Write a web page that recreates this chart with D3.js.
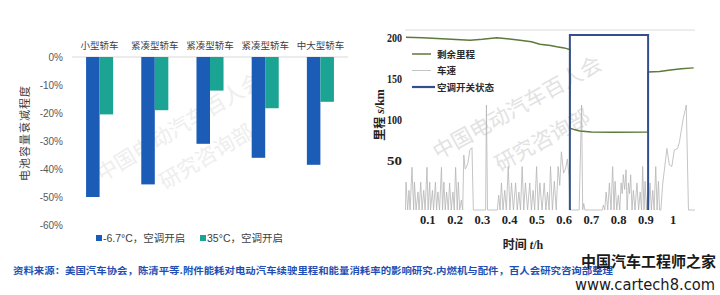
<!DOCTYPE html>
<html>
<head>
<meta charset="utf-8">
<script src="https://cdn.jsdelivr.net/npm/d3@7"></script>
<style>
    body { margin: 0; background: #fff; }
    svg { display: block; }
</style>
</head>
<body>
<div id="chart"></div>
<script>
// ---- left chart: battery capacity loss ----
const carTypes = ["小型轿车", "紧凑型轿车", "紧凑型轿车", "紧凑型轿车", "中大型轿车"];
const coldLoss = [-0.50, -0.455, -0.31, -0.36, -0.385];
const hotLoss = [-0.205, -0.19, -0.12, -0.183, -0.16];
const lossTicks = [0, -0.1, -0.2, -0.3, -0.4, -0.5, -0.6];
const barSeries = ["-6.7°C，空调开启", "35°C，空调开启"];

// ---- right chart: range vs time ----
const rangeTime = [0.02, 0.08, 0.17, 0.22, 0.255, 0.30, 0.353, 0.40, 0.438, 0.48, 0.511, 0.55, 0.573, 0.60, 0.621,
    0.621, 0.64, 0.658, 0.70, 0.78, 0.908, 0.908, 0.95, 0.99, 1.03, 1.075];
const rangeKm = [200.5, 200, 198.5, 197.5, 197, 198, 200, 198.5, 197, 195, 192, 190.5, 189, 187.5, 185.5,
    89, 87, 85.5, 84.5, 84, 84.5, 158, 158.5, 160.5, 162, 163];
const speedTime = [0.018, 0.020, 0.026, 0.031, 0.035, 0.042, 0.048, 0.051, 0.057, 0.064, 0.068, 0.074, 0.079, 0.085,
    0.090, 0.097, 0.101, 0.107, 0.110, 0.117, 0.121, 0.128, 0.132, 0.137, 0.143, 0.150, 0.154, 0.159, 0.164, 0.169,
    0.175, 0.180, 0.186, 0.192, 0.197, 0.202, 0.208, 0.212, 0.217, 0.223, 0.228, 0.232, 0.237, 0.241, 0.247, 0.254,
    0.262, 0.267, 0.312, 0.315, 0.319, 0.355, 0.360, 0.365, 0.370, 0.376, 0.382, 0.388, 0.395, 0.401, 0.407, 0.414,
    0.422, 0.428, 0.434, 0.440, 0.446, 0.452, 0.458, 0.466, 0.474, 0.480, 0.486, 0.492, 0.499, 0.505, 0.511, 0.519,
    0.527, 0.533, 0.539, 0.545, 0.550, 0.557, 0.564, 0.571, 0.578, 0.584, 0.590, 0.598, 0.605, 0.612, 0.618, 0.621,
    0.655, 0.664, 0.668, 0.672, 0.676, 0.740, 0.744, 0.749, 0.754, 0.760, 0.766, 0.772, 0.778, 0.783, 0.787, 0.793,
    0.799, 0.804, 0.809, 0.813, 0.817, 0.822, 0.827, 0.831, 0.836, 0.840, 0.844, 0.849, 0.854, 0.860, 0.867, 0.873,
    0.879, 0.884, 0.888, 0.893, 0.897, 0.902, 0.906, 0.910, 0.915, 0.920, 0.925, 0.930, 0.936, 0.941, 0.946, 0.950,
    0.955, 0.961, 0.967, 0.977, 0.986, 0.995, 1.004, 1.016, 1.023, 1.036, 1.048, 1.056, 1.08];
const speedKmh = [0, 34, 0, 24, 0, 52, 0, 34, 0, 22, 0, 34, 0, 24,
    0, 52, 0, 34, 0, 24, 0, 34, 0, 22, 0, 52, 0, 34, 0, 22,
    0, 33, 0, 22, 0, 52, 0, 34, 0, 12, 0, 67, 50, 52, 57, 73,
    76, 0, 0, 128, 0, 0, 18, 0, 33, 0, 24, 0, 53, 0, 33, 0,
    33, 0, 22, 0, 53, 0, 33, 0, 33, 0, 24, 0, 53, 0, 33, 0,
    33, 0, 22, 0, 53, 0, 35, 0, 53, 30, 71, 45, 50, 62, 40, 0,
    0, 128, 0, 8, 0, 0, 6, 0, 22, 0, 33, 0, 53, 0, 35, 0,
    18, 0, 33, 20, 43, 25, 49, 0, 33, 20, 43, 0, 24, 0, 33, 0,
    22, 0, 53, 0, 35, 0, 18, 0, 33, 0, 24, 0, 53, 0, 35, 0,
    0, 30, 47, 75, 55, 53, 73, 75, 83, 110, 128, 0, 0];
const acOnTime = [0.621, 0.908];
const timeTicks = [0.1, 0.2, 0.3, 0.4, 0.5, 0.6, 0.7, 0.8, 0.9, 1];
const kmTicks = [50, 100, 150, 200];
const lineNames = ["剩余里程", "车速", "空调开关状态"];

const sourceNote = "资料来源：美国汽车协会，陈清平等.附件能耗对电动汽车续驶里程和能量消耗率的影响研究.内燃机与配件，百人会研究咨询部整理";

class LossChart {
    constructor(_svg) {
        this.svg = _svg;
        this.InitVis();
    }

    InitVis() {
        const vis = this;
        vis.blue = "#1b5db6";
        vis.teal = "#1ba393";

        // faint watermark
        const wm = vis.svg.append("g").attr("fill", "#eeeeee")
            .attr("font-family", "Noto Sans CJK SC").attr("font-size", "21px");
        wm.append("text").attr("transform", "translate(102,182) rotate(-31)").text("中国电动汽车百人会");
        wm.append("text").attr("transform", "translate(165,190) rotate(-31)").text("研究咨询部");

        vis.x = d3.scaleBand().domain(d3.range(carTypes.length)).range([72, 348])
            .paddingInner(0.51).paddingOuter(0.255);
        vis.y = d3.scaleLinear().domain([-0.6, 0]).range([225, 57]);

        vis.svg.append("line")
            .attr("x1", 72).attr("x2", 348)
            .attr("y1", vis.y(0)).attr("y2", vis.y(0))
            .attr("stroke", "#d9d9d9");

        vis.svg.append("g").selectAll("text")
            .data(lossTicks)
            .enter()
            .append("text")
            .attr("x", 63)
            .attr("y", d => vis.y(d) + 3.5)
            .attr("text-anchor", "end")
            .attr("font-family", "Liberation Sans, Arial")
            .attr("font-size", "10px")
            .attr("fill", "#595959")
            .text(d => d3.format(".0%")(d).replace("−", "-"));

        vis.svg.append("text")
            .attr("transform", "translate(29,133) rotate(-90)")
            .attr("text-anchor", "middle")
            .attr("font-family", "Noto Sans CJK SC")
            .attr("font-size", "11px")
            .attr("fill", "#404040")
            .attr("letter-spacing", "1px")
            .text("电池容量衰减程度");

        vis.UpdateVis();
    }

    UpdateVis() {
        const vis = this;
        const bw = vis.x.bandwidth() / 2;

        vis.svg.append("g").selectAll("text")
            .data(carTypes)
            .enter()
            .append("text")
            .attr("x", (d, i) => vis.x(i) + vis.x.bandwidth() / 2)
            .attr("y", 49)
            .attr("text-anchor", "middle")
            .attr("font-family", "Noto Sans CJK SC")
            .attr("font-size", "9.5px")
            .attr("fill", "#404040")
            .text(d => d);

        vis.svg.append("g").selectAll("rect")
            .data(coldLoss)
            .enter()
            .append("rect")
            .attr("x", (d, i) => vis.x(i))
            .attr("y", vis.y(0))
            .attr("width", bw)
            .attr("height", d => vis.y(d) - vis.y(0))
            .attr("fill", vis.blue);

        vis.svg.append("g").selectAll("rect")
            .data(hotLoss)
            .enter()
            .append("rect")
            .attr("x", (d, i) => vis.x(i) + bw)
            .attr("y", vis.y(0))
            .attr("width", bw)
            .attr("height", d => vis.y(d) - vis.y(0))
            .attr("fill", vis.teal);

        // legend
        const legendX = [96, 200];
        const colors = [vis.blue, vis.teal];
        barSeries.forEach((name, i) => {
            vis.svg.append("rect")
                .attr("x", legendX[i]).attr("y", 235)
                .attr("width", 6).attr("height", 6)
                .attr("fill", colors[i]);
            vis.svg.append("text")
                .attr("x", legendX[i] + 7).attr("y", 241.5)
                .attr("font-family", "Liberation Sans, Noto Sans CJK SC")
                .attr("font-size", "10.5px")
                .attr("fill", "#404040")
                .text(name);
        });
    }
}

class RangeChart {
    constructor(_svg) {
        this.svg = _svg;
        this.InitVis();
    }

    InitVis() {
        const vis = this;
        vis.serif = "Liberation Serif, Noto Sans CJK SC";

        vis.x = d3.scaleLinear().domain([0.02, 1.08]).range([406, 695]);
        vis.yKm = d3.scaleLinear().domain([0, 200]).range([200.8, 37.7]);
        vis.ySpeed = d3.scaleLinear().domain([0, 128]).range([210, 105]);
        vis.yAc = d3.scaleLinear().domain([0, 1]).range([210, 35]);

        vis.svg.append("line")
            .attr("x1", 405).attr("x2", 695).attr("y1", 30).attr("y2", 30)
            .attr("stroke", "#dcdcdc");

        vis.svg.append("g").selectAll("text")
            .data(kmTicks)
            .enter()
            .append("text")
            .attr("x", 402)
            .attr("y", d => vis.yKm(d) + 4.5)
            .attr("text-anchor", "end")
            .attr("font-family", vis.serif)
            .attr("font-weight", "bold")
            .attr("font-size", "13px")
            .attr("textLength", 15)
            .attr("lengthAdjust", "spacingAndGlyphs")
            .attr("fill", "#222")
            .text(d => d);

        vis.svg.append("g").selectAll("text")
            .data(timeTicks)
            .enter()
            .append("text")
            .attr("x", d => vis.x(d))
            .attr("y", 224)
            .attr("text-anchor", "middle")
            .attr("font-family", vis.serif)
            .attr("font-weight", "bold")
            .attr("font-size", "12.5px")
            .attr("fill", "#222")
            .text(d => d);

        vis.svg.append("text")
            .attr("transform", "translate(384,115) rotate(-90)")
            .attr("text-anchor", "middle")
            .attr("font-family", vis.serif)
            .attr("font-weight", "bold")
            .attr("font-size", "12px")
            .attr("fill", "#222")
            .html("里程 <tspan font-style='italic'>s</tspan>/km");

        vis.svg.append("text")
            .attr("x", 523).attr("y", 249)
            .attr("text-anchor", "middle")
            .attr("font-family", vis.serif)
            .attr("font-weight", "bold")
            .attr("font-size", "12px")
            .attr("fill", "#222")
            .html("时间 <tspan font-style='italic'>t</tspan>/h");

        const wm = vis.svg.append("g").attr("fill", "#e2e2e2")
            .attr("font-family", "Noto Sans CJK SC").attr("font-size", "21px");
        wm.append("text").attr("transform", "translate(438,160) rotate(-29)").text("中国电动汽车百人会");
        wm.append("text").attr("transform", "translate(500,172) rotate(-29)").text("研究咨询部");

        vis.UpdateVis();
    }

    UpdateVis() {
        const vis = this;

        const speedLine = d3.line()
            .x(d => vis.x(d[0]))
            .y(d => vis.ySpeed(d[1]));
        vis.svg.append("path")
            .attr("d", speedLine(d3.zip(speedTime, speedKmh)))
            .attr("fill", "none")
            .attr("stroke", "#b5b5b5")
            .attr("stroke-width", 0.8);

        const rangeLine = d3.line()
            .x(d => vis.x(d[0]))
            .y(d => vis.yKm(d[1]));
        vis.svg.append("path")
            .attr("d", rangeLine(d3.zip(rangeTime, rangeKm)))
            .attr("fill", "none")
            .attr("stroke", "#5c7a3a")
            .attr("stroke-width", 1.5);

        // air-conditioning state: on between the two times
        const acPoints = [[acOnTime[0], 0], [acOnTime[0], 1], [acOnTime[1], 1], [acOnTime[1], 0]];
        const acLine = d3.line()
            .x(d => vis.x(d[0]))
            .y(d => vis.yAc(d[1]));
        vis.svg.append("path")
            .attr("d", acLine(acPoints))
            .attr("fill", "none")
            .attr("stroke", "#34508c")
            .attr("stroke-width", 2);

        // legend
        const strokes = ["#5c7a3a", "#c4c4c4", "#34508c"];
        const widths = [1.5, 1, 2.2];
        const rows = [54, 70.5, 87];
        lineNames.forEach((name, i) => {
            vis.svg.append("line")
                .attr("x1", 412).attr("x2", i == 2 ? 435 : 431)
                .attr("y1", rows[i]).attr("y2", rows[i])
                .attr("stroke", strokes[i])
                .attr("stroke-width", widths[i]);
            vis.svg.append("text")
                .attr("x", 437).attr("y", rows[i] + 3.5)
                .attr("font-family", "Noto Sans CJK SC")
                .attr("font-weight", "bold")
                .attr("font-size", "9.5px")
                .attr("fill", "#2a2a2a")
                .text(name);
        });
    }
}

const svg = d3.select("#chart")
    .append("svg")
    .attr("width", 720)
    .attr("height", 295);

svg.append("rect").attr("width", 720).attr("height", 295).attr("fill", "#fff");

new LossChart(svg.append("g"));
new RangeChart(svg.append("g"));

svg.append("text")
    .attr("x", 13).attr("y", 274)
    .attr("font-family", "Noto Sans CJK SC")
    .attr("font-weight", "bold")
    .attr("font-size", "9.5px")
    .attr("fill", "#1f4fb3")
    .attr("textLength", 600)
    .attr("lengthAdjust", "spacingAndGlyphs")
    .text(sourceNote);

svg.append("text")
    .attr("x", 716).attr("y", 267)
    .attr("text-anchor", "end")
    .attr("font-family", "Noto Sans CJK SC")
    .attr("font-weight", "bold")
    .attr("font-size", "15px")
    .attr("fill", "#1a1a1a")
    .text("中国汽车工程师之家");

svg.append("text")
    .attr("x", 575).attr("y", 290)
    .attr("font-family", "DejaVu Sans, sans-serif")
    .attr("font-size", "15px")
    .attr("fill", "#1a1a1a")
    .attr("textLength", 140)
    .attr("lengthAdjust", "spacingAndGlyphs")
    .text("www.cartech8.com");
</script>
</body>
</html>
